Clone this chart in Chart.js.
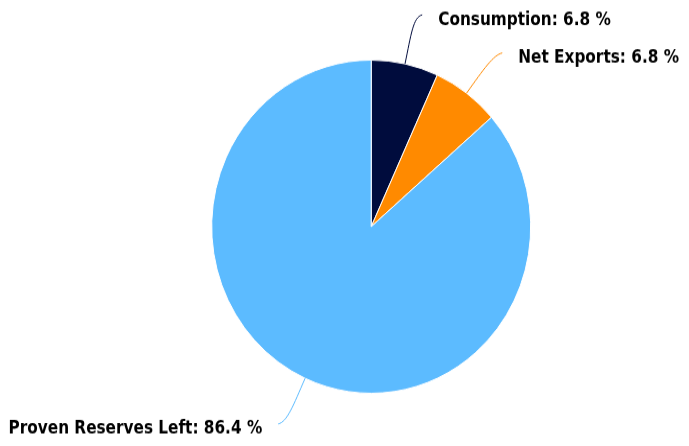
<!DOCTYPE html>
<html>
<head>
<meta charset="utf-8">
<script src="https://cdn.jsdelivr.net/npm/chart.js@4/dist/chart.umd.min.js"></script>
<style>
  html, body { margin: 0; padding: 0; background: #ffffff; }
  #wrap { width: 689px; height: 446px; overflow: hidden; }
  canvas { display: block; }
</style>
</head>
<body>
<div id="wrap"><canvas id="c" width="689" height="427"></canvas></div>
<script>
const categories = ["Consumption", "Net Exports", "Proven Reserves Left"];
const shares = [6.8, 6.8, 86.4];
const sliceColors = ["#000c3d", "#ff8a00", "#5cbbff"];

const labelPlugin = {
  id: "sliceLabels",
  afterDraw(chart) {
    const ctx = chart.ctx;
    const meta = chart.getDatasetMeta(0);
    ctx.save();
    ctx.font = "bold 17px 'DejaVu Sans Condensed', 'DejaVu Sans'";
    ctx.textBaseline = "middle";
    meta.data.forEach((arc, i) => {
      const mid = (arc.startAngle + arc.endAngle) / 2;
      const dx = Math.cos(mid), dy = Math.sin(mid);
      const r = arc.outerRadius;
      const sx = arc.x + dx * r, sy = arc.y + dy * r;
      const L = 48;
      const cx = sx + dx * L, cy = sy + dy * L;
      const side = dx >= 0 ? 1 : -1;
      const ex = cx + side * 7, ey = cy;
      ctx.strokeStyle = sliceColors[i];
      ctx.lineWidth = 1;
      ctx.beginPath();
      ctx.moveTo(sx, sy);
      ctx.bezierCurveTo(sx + dx * L * 0.6, sy + dy * L * 0.6, cx - side * 2, cy + (dy > 0 ? -2 : 2), ex, ey);
      ctx.stroke();
      const text = categories[i] + ": " + shares[i].toFixed(1) + " %";
      ctx.fillStyle = "#000000";
      ctx.textAlign = side > 0 ? "left" : "right";
      ctx.fillText(text, ex + side * 16, ey + 5);
    });
    ctx.restore();
  }
};

const chart = new Chart(document.getElementById("c"), {
  type: "pie",
  data: {
    labels: categories,
    datasets: [{
      data: shares,
      backgroundColor: sliceColors,
      borderColor: "#ffffff",
      borderWidth: 1
    }]
  },
  options: {
    responsive: false,
    devicePixelRatio: 1,
    animation: false,
    layout: { padding: { left: 211.2, right: 157.8, top: 57, bottom: 50 } },
    plugins: {
      legend: { display: false },
      tooltip: { enabled: false },
      title: { display: false }
    }
  },
  plugins: [labelPlugin]
});
const cv = document.getElementById("c");
cv.style.width = "689px";
cv.style.height = "446px";
</script>
</body>
</html>
